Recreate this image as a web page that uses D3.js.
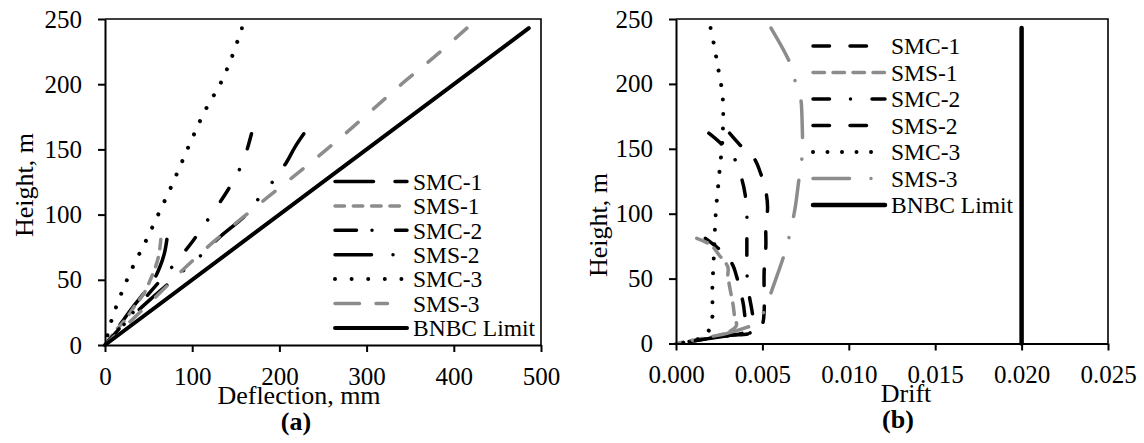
<!DOCTYPE html>
<html>
<head>
<meta charset="utf-8">
<script src="https://cdn.jsdelivr.net/npm/d3@7"></script>
<style>
  body { margin: 0; background: #fff; }
  svg text { font-family: "Liberation Serif", "Times New Roman", serif; fill: #000; }
</style>
</head>
<body>
<svg id="chart" width="1144" height="443"></svg>
<script>
var names = ["SMC-1", "SMS-1", "SMC-2", "SMS-2", "SMC-3", "SMS-3", "BNBC Limit"];

// (a) [height m, deflection mm]
var deflSMC1 = [[0,0],[10,11],[20,22],[30,33],[40,45],[50,56],[60,63],[70,68],[81,71]];
var deflSMS1 = [[0,0],[10,11],[20,24],[30,34],[40,45],[50,52],[60,58],[70,62],[81,64]];
var deflSMC2 = [[0,0],[20,26],[40,51],[60,77],[80,101],[100,122],[120,142],[140,158],[150,163],[162,168]];
var deflSMS2 = [[0,0],[20,28],[35,52],[50,78],[60,95],[70,112],[83,132],[100,162],[113,177],[125,192],[140,208],[152,218],[162,228]];
var deflSMC3 = [[0,0],[20,8],[40,19],[60,32],[80,47],[100,61],[120,75],[140,88],[160,101],[180,115],[200,132],[220,145],[243,157]];
var deflSMS3 = [[0,0],[20,32],[40,63],[60,93],[80,126],[100,162],[120,199],[140,236],[160,272],[180,306],[200,340],[220,376],[243,415]];
var deflBNBC = [[0,0],[243,486]];

// (b) [height m, drift]
var driftSMC1 = [[0,0],[3,0.0015],[6,0.0030],[9,0.0040],[14,0.0041],[20,0.0040],[30,0.0039],[42,0.0037],[52,0.0035],[60,0.0033],[68,0.0029],[76,0.0022],[81,0.0017]];
var driftSMS1 = [[0,0],[3,0.0012],[6,0.0024],[10,0.0032],[14,0.0035],[20,0.0034],[30,0.0033],[44,0.0031],[52,0.0030],[59,0.0030],[68,0.0025],[76,0.0020],[81,0.0012]];
var driftSMC2 = [[0,0],[3,0.0015],[6,0.0030],[9,0.0044],[14,0.0045],[25,0.0044],[40,0.0042],[56,0.0041],[70,0.0041],[85,0.0041],[100,0.0041],[115,0.0040],[127,0.0038],[142,0.0034],[154,0.0026],[162,0.0019]];
var driftSMS2 = [[0,0],[3,0.0015],[6,0.0030],[9,0.0046],[15,0.0050],[25,0.0051],[40,0.0051],[55,0.0051],[75,0.0052],[90,0.0052],[105,0.0053],[117,0.0052],[131,0.0049],[143,0.0045],[153,0.0037],[162,0.0031]];
var driftSMC3 = [[0,0],[2,0.0010],[5,0.0015],[10,0.0019],[20,0.0021],[40,0.0021],[70,0.0022],[100,0.0023],[130,0.0025],[160,0.0027],[190,0.0027],[215,0.0024],[230,0.0022],[243,0.0020]];
var driftSMS3 = [[0,0],[4,0.0015],[8,0.0030],[12,0.0040],[16,0.0047],[28,0.0052],[43,0.0056],[70,0.0063],[85,0.0066],[105,0.0069],[125,0.0071],[145,0.0073],[170,0.0073],[190,0.0072],[202,0.0069],[216,0.0066],[243,0.0055]];
var driftBNBC = [[0,0.02],[243,0.02]];

var heightTicks = [0, 50, 100, 150, 200, 250];
var deflTicks = [0, 100, 200, 300, 400, 500];
var driftTicks = [0, 0.005, 0.010, 0.015, 0.020, 0.025];

var GRAY = "#8c8c8c";
var SERIF = "'Liberation Serif', 'Times New Roman', serif";

// visible dash lengths, corrected for round caps
function dash(arr, w) {
  if (!arr) return null;
  return arr.map(function(v, i) { return i % 2 === 0 ? Math.max(0.001, v - w) : v + w; }).join(" ");
}

var svg = d3.select("#chart");

function panel(cfg) {
  var x = d3.scaleLinear().domain(cfg.xDomain).range([cfg.left, cfg.right]);
  var y = d3.scaleLinear().domain([0, 250]).range([cfg.bottom, cfg.top]);
  var g = svg.append("g");

  // frame
  g.append("path")
    .attr("d", "M" + cfg.left + "," + cfg.top + "H" + cfg.right + "V" + cfg.bottom)
    .attr("fill", "none").attr("stroke", "#000").attr("stroke-width", 1.6);

  var line = d3.line()
    .x(function(d) { return x(d[1]); })
    .y(function(d) { return y(d[0]); })
    .curve(d3.curveCatmullRom.alpha(0.5));

  // drawn from the top down so the dash pattern starts at the top of each curve
  cfg.series.forEach(function(s, i) {
    var st = cfg.styles[i];
    g.append("path")
      .attr("d", line(s.slice().reverse()))
      .attr("fill", "none")
      .attr("stroke", st.color)
      .attr("stroke-width", st.w)
      .attr("stroke-linecap", "round")
      .attr("stroke-dasharray", dash(st.dash, st.w));
  });

  // axes
  var yAxis = d3.axisLeft(y).tickValues(heightTicks).tickSize(7).tickSizeOuter(0).tickPadding(16);
  var xAxis = d3.axisBottom(x).tickValues(cfg.xTicks).tickSize(7).tickSizeOuter(0).tickPadding(15)
    .tickFormat(cfg.fmt);
  var ya = g.append("g").attr("transform", "translate(" + cfg.left + ",0)").call(yAxis);
  var xa = g.append("g").attr("transform", "translate(0," + cfg.bottom + ")").call(xAxis);
  [ya, xa].forEach(function(a) {
    a.attr("font-family", SERIF).attr("font-size", 25);
    a.select(".domain").attr("stroke-width", 2);
    a.selectAll(".tick line").attr("stroke-width", 2);
    a.selectAll("text").attr("font-size", 25).attr("font-family", SERIF);
  });

  // titles
  g.append("text")
    .attr("transform", "translate(" + cfg.yTitle[0] + "," + cfg.yTitle[1] + ") rotate(-90)")
    .attr("text-anchor", "middle").attr("font-size", 26).text("Height, m");
  g.append("text").attr("x", cfg.xTitle[0]).attr("y", cfg.xTitle[1])
    .attr("text-anchor", "middle").attr("font-size", 26).text(cfg.xLabel);
  g.append("text").attr("x", cfg.cap[0]).attr("y", cfg.cap[1])
    .attr("text-anchor", "middle").attr("font-size", 26).attr("font-weight", "bold").text(cfg.caption);

  // legend
  names.forEach(function(n, i) {
    var st = cfg.styles[i];
    var ly = cfg.leg.y + i * cfg.leg.step;
    g.append("line")
      .attr("x1", cfg.leg.x).attr("x2", cfg.leg.x + 72)
      .attr("y1", ly).attr("y2", ly)
      .attr("stroke", st.color).attr("stroke-width", st.w)
      .attr("stroke-linecap", "round")
      .attr("stroke-dasharray", dash(st.ldash || st.dash, st.w));
    g.append("text").attr("x", cfg.leg.x + 78).attr("y", ly).attr("dy", "0.35em")
      .attr("font-size", 23.5).text(n);
  });
}

panel({
  left: 105, right: 541, top: 19, bottom: 345,
  xDomain: [0, 500], xTicks: deflTicks, fmt: d3.format("d"),
  series: [deflSMC1, deflSMS1, deflSMC2, deflSMS2, deflSMC3, deflSMS3, deflBNBC],
  styles: [
    {color: "#000", w: 3.5, dash: [42, 18]},
    {color: GRAY, w: 3.5, dash: [13, 5.3]},
    {color: "#000", w: 3.5, dash: [19, 19, 3.5, 18], ldash: [25, 12, 3.5, 20]},
    {color: "#000", w: 3.5, dash: [40, 18, 3.5, 19, 3.5, 19]},
    {color: "#000", w: 4, dash: [4, 10.6], ldash: [4, 12.6]},
    {color: GRAY, w: 3.5, dash: [19, 17], ldash: [28, 13, 15, 16]},
    {color: "#000", w: 4, dash: null}
  ],
  yTitle: [33, 185], xTitle: [299, 404], xLabel: "Deflection, mm",
  cap: [296, 430], caption: "(a)",
  leg: {x: 335, y: 181.5, step: 24.4}
});

panel({
  left: 676, right: 1108, top: 19, bottom: 343.5,
  xDomain: [0, 0.025], xTicks: driftTicks, fmt: d3.format(".3f"),
  series: [driftSMC1, driftSMS1, driftSMC2, driftSMS2, driftSMC3, driftSMS3, driftBNBC],
  styles: [
    {color: "#000", w: 3.5, dash: [20, 17]},
    {color: GRAY, w: 3.5, dash: [15, 5]},
    {color: "#000", w: 3.5, dash: [20, 17.5, 3.5, 18]},
    {color: "#000", w: 3.5, dash: [20, 17]},
    {color: "#000", w: 4, dash: [4, 10.5]},
    {color: GRAY, w: 3.5, dash: [40, 18, 3.5, 18]},
    {color: "#000", w: 4.5, dash: null}
  ],
  yTitle: [607, 225], xTitle: [906, 402], xLabel: "Drift",
  cap: [898, 428], caption: "(b)",
  leg: {x: 813, y: 46, step: 26.5}
});
</script>
</body>
</html>
